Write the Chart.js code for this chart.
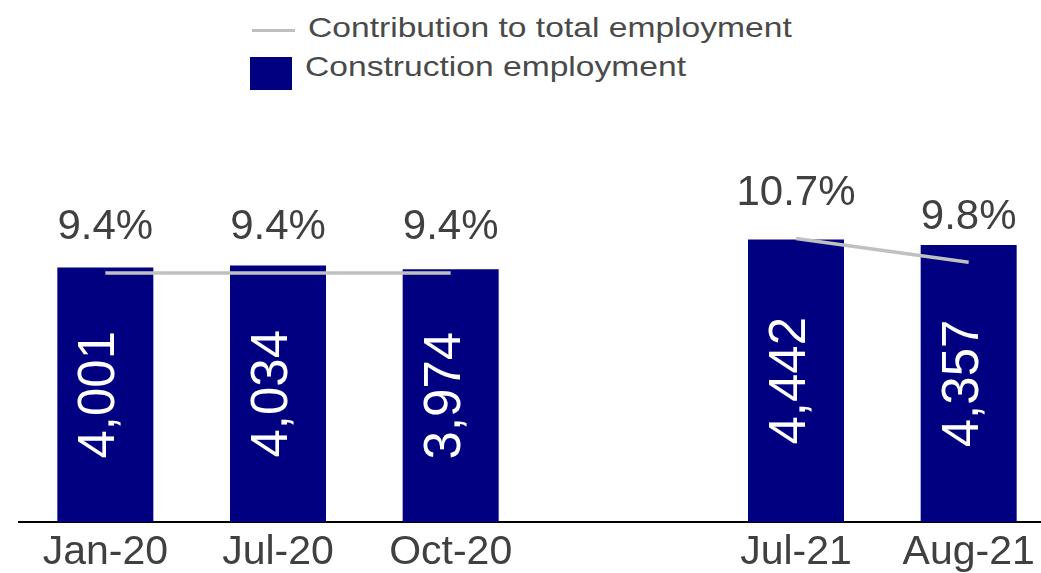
<!DOCTYPE html>
<html>
<head>
<meta charset="utf-8">
<script src="https://cdn.jsdelivr.net/npm/chart.js@4.4.1/dist/chart.umd.min.js"></script>
<style>
  html, body { margin: 0; padding: 0; background: #fff; overflow: hidden; width: 1041px; height: 573px; }
  #wrap { position: absolute; left: 0; top: 0; width: 1055px; height: 573px; }
  .leg { position: absolute; font-family: "Liberation Sans", Arial, sans-serif; font-size: 28px; line-height: 28px; color: #4a4a4a; white-space: nowrap; transform: scaleX(1.2); transform-origin: left top; }
  .legline { position: absolute; left: 252px; top: 29px; width: 43px; height: 3px; background: #c0c0c0; }
  .legbox { position: absolute; left: 250px; top: 57px; width: 42px; height: 33px; background: #000080; }
</style>
</head>
<body>
<div class="legline"></div>
<div class="leg" style="left:308px; top:14px;">Contribution to total employment</div>
<div class="legbox"></div>
<div class="leg" style="left:305px; top:53px;">Construction employment</div>
<div id="wrap"><canvas id="c"></canvas></div>
<script>
const categories = ["Jan-20", "Jul-20", "Oct-20", "", "Jul-21", "Aug-21"];
const constructionEmployment = [4001, 4034, 3974, null, 4442, 4357];
const contributionPct = [9.4, 9.4, 9.4, null, 10.7, 9.8];

const labelPlugin = {
  id: 'labels',
  afterDatasetsDraw(chart) {
    const ctx = chart.ctx;
    const barMeta = chart.getDatasetMeta(1);
    barMeta.data.forEach((bar, i) => {
      const v = constructionEmployment[i];
      if (v == null) return;
      const p = bar.getProps(['x', 'y', 'base'], true);
      ctx.save();
      ctx.translate(p.x, (p.y + p.base) / 2);
      ctx.rotate(-Math.PI / 2);
      ctx.font = '51px "Liberation Sans", Arial, sans-serif';
      ctx.fillStyle = '#ffffff';
      ctx.textAlign = 'center';
      ctx.textBaseline = 'middle';
      ctx.fillText(v.toLocaleString('en-US'), 0, -5);
      ctx.restore();
    });
    const lineMeta = chart.getDatasetMeta(0);
    lineMeta.data.forEach((pt, i) => {
      const v = contributionPct[i];
      if (v == null) return;
      ctx.save();
      ctx.font = '42px "Liberation Sans", Arial, sans-serif';
      ctx.fillStyle = '#404040';
      ctx.textAlign = 'center';
      ctx.textBaseline = 'middle';
      ctx.fillText(v.toFixed(1) + '%', pt.x, pt.y - 45);
      ctx.restore();
    });
  }
};

new Chart(document.getElementById('c'), {
  data: {
    labels: categories,
    datasets: [
      {
        type: 'line',
        label: 'Contribution to total employment',
        data: contributionPct,
        yAxisID: 'y1',
        borderColor: '#c0c0c0',
        borderWidth: 3.5,
        pointRadius: 0,
        tension: 0,
        spanGaps: false,
        order: 0
      },
      {
        type: 'bar',
        label: 'Construction employment',
        data: constructionEmployment,
        yAxisID: 'y',
        backgroundColor: '#000080',
        borderWidth: 0,
        categoryPercentage: 1,
        barPercentage: 0.556,
        order: 1
      }
    ]
  },
  options: {
    responsive: true,
    maintainAspectRatio: false,
    animation: false,
    layout: { padding: { top: 204, left: 19, right: 0, bottom: -10 } },
    plugins: { legend: { display: false }, tooltip: { enabled: false } },
    scales: {
      x: {
        grid: { display: false, drawTicks: false },
        border: { display: true, color: '#000000', width: 2 },
        ticks: {
          color: '#404040',
          padding: 10,
          maxRotation: 0,
          autoSkip: false,
          font: { family: '"Liberation Sans", Arial, sans-serif', size: 41, lineHeight: 1 }
        }
      },
      y: { display: false, min: 0, max: 5000 },
      y1: { display: false, min: 0, max: 12, position: 'right' }
    }
  },
  plugins: [labelPlugin]
});
</script>
</body>
</html>
